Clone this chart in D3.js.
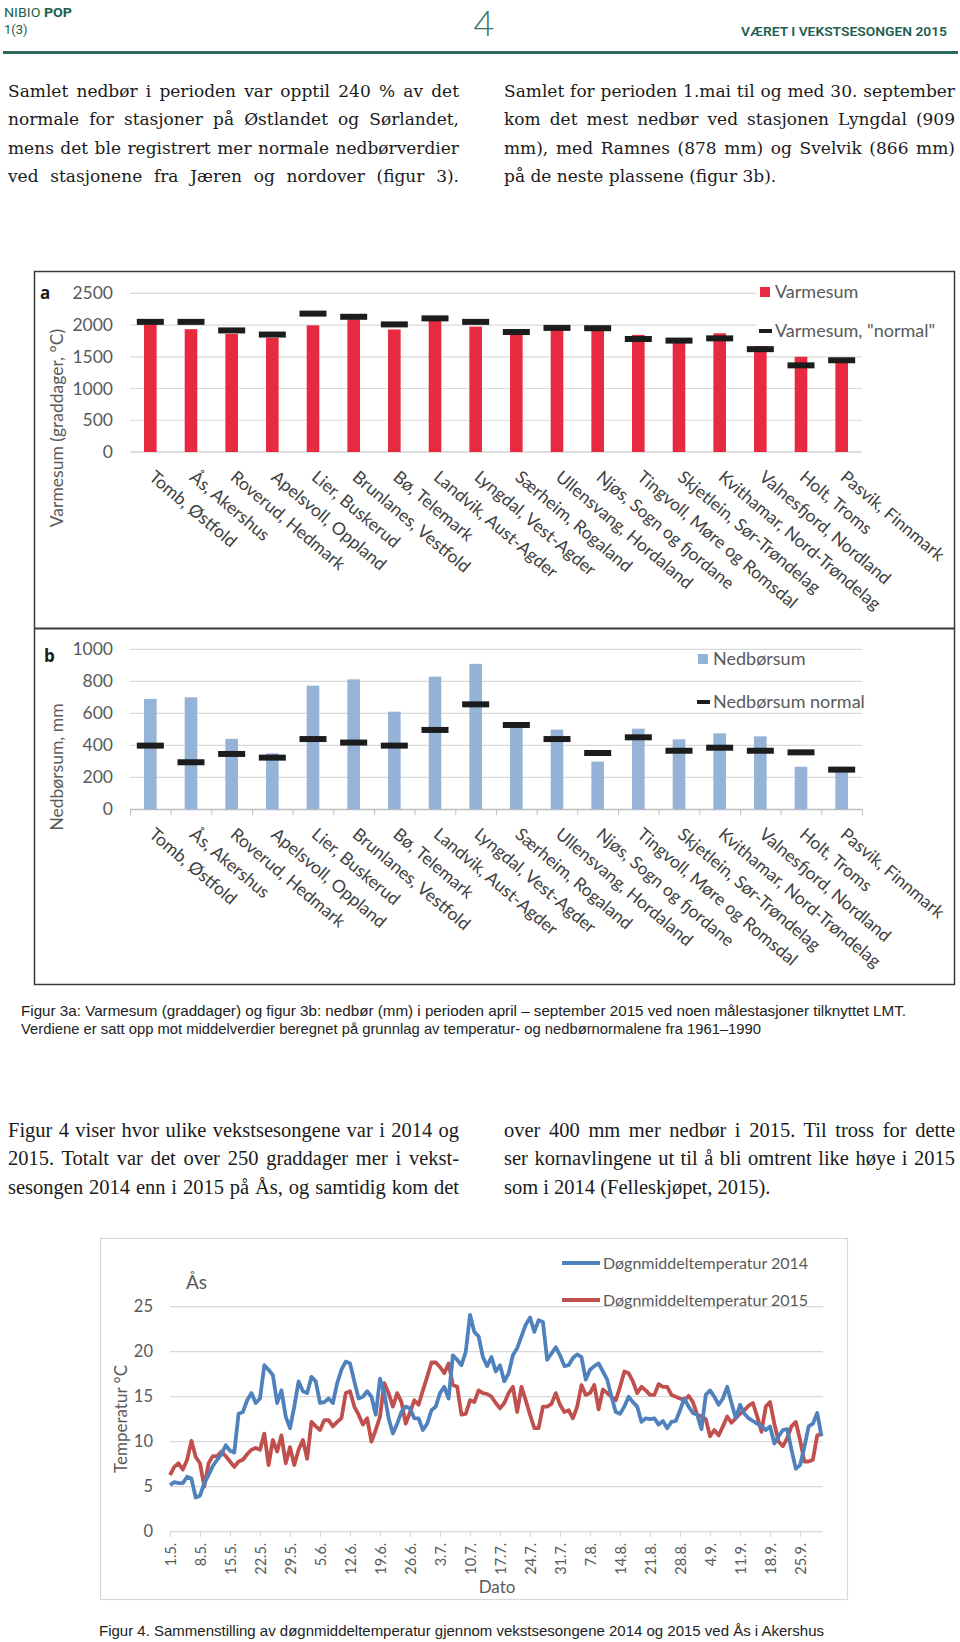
<!DOCTYPE html>
<html><head><meta charset="utf-8">
<script src="https://cdn.jsdelivr.net/npm/d3@7"></script>
<style>
body{margin:0;background:#fff;}
#page{position:relative;width:960px;height:1642px;overflow:hidden;background:#fff;}
svg{position:absolute;left:0;top:0;}
.pl{position:absolute;white-space:nowrap;color:#1a1a1a;line-height:28.4px;height:28.4px;}
</style></head>
<body><div id="page"></div>
<script>
// ---------------- DATA ----------------
const stations = ["Tomb, Østfold","Ås, Akershus","Roverud, Hedmark","Apelsvoll, Oppland","Lier, Buskerud","Brunlanes, Vestfold","Bø, Telemark","Landvik, Aust-Agder","Lyngdal, Vest-Agder","Særheim, Rogaland","Ullensvang, Hordaland","Njøs, Sogn og fjordane","Tingvoll, Møre og Romsdal","Skjetlein, Sør-Trøndelag","Kvithamar, Nord-Trøndelag","Valnesfjord, Nordland","Holt, Troms","Pasvik, Finnmark"];
const varmesum       = [2010,1935,1860,1800,1995,2090,1930,2065,1975,1850,1920,1920,1845,1720,1870,1670,1500,1420];
const varmesumNormal = [2050,2050,1915,1850,2180,2130,2010,2105,2050,1890,1955,1950,1780,1755,1790,1620,1365,1445];
const varmeTicks = [0,500,1000,1500,2000,2500];
const nedbor       = [690,700,440,350,773,812,610,829,909,515,498,298,504,437,475,456,266,235];
const nedborNormal = [398,294,346,323,439,417,398,496,656,527,439,352,450,366,385,366,356,248];
const nedborTicks = [0,200,400,600,800,1000];

const temp2014 = [5.2,5.5,5.4,5.4,6.1,5.9,3.8,4.0,5.4,6.3,7.3,8.0,8.6,9.6,9.0,8.8,13.1,13.3,14.6,15.4,
14.3,14.8,18.5,18.0,17.4,14.3,15.7,12.8,11.5,13.9,16.7,15.6,15.4,17.2,16.7,14.3,14.4,14.8,14.3,16.5,
18.0,18.9,18.7,16.7,14.8,15.0,15.6,15.0,13.0,17.0,15.4,12.6,10.9,12.0,13.3,13.9,13.7,12.6,12.6,11.3,
12.0,13.5,13.9,15.4,16.1,14.8,19.6,19.1,18.5,20.0,24.1,22.2,21.7,19.4,18.4,19.4,17.8,18.5,16.7,17.6,
19.6,20.4,21.7,23.0,23.8,22.2,23.5,23.3,19.1,19.8,20.5,19.6,18.4,18.5,19.3,19.7,19.4,16.9,18.0,18.4,
18.7,17.8,16.9,15.0,13.3,13.1,13.9,15.0,14.4,13.9,12.2,12.6,12.5,12.6,11.9,12.3,11.5,12.2,12.3,13.5,
14.8,13.9,13.2,13.0,11.4,15.2,15.7,15.0,14.1,14.8,16.1,14.3,12.6,14.1,13.1,12.6,12.3,12.0,11.7,11.3,
11.7,9.8,10.6,11.3,11.4,9.1,7.0,7.4,9.4,11.7,12.0,13.2,10.6,7.2];
const temp2015 = [6.3,7.2,7.6,6.9,8.0,10.1,8.3,7.6,5.0,7.6,8.4,8.4,8.9,8.4,7.8,7.2,7.8,8.0,8.6,9.1,
9.3,9.1,10.9,7.4,10.2,8.9,10.7,7.6,9.4,7.4,9.1,10.2,8.1,12.2,11.7,11.3,12.4,12.4,11.7,12.2,
12.6,15.4,15.6,13.9,13.0,11.9,12.6,10.0,11.3,12.8,16.5,15.4,13.9,15.4,14.4,12.0,13.3,14.6,14.1,15.7,
17.2,18.8,18.8,18.3,17.6,18.7,16.3,16.1,13.0,13.1,14.6,14.4,15.7,15.4,15.3,15.0,14.3,13.7,14.3,15.4,
16.1,13.3,16.1,14.6,13.0,11.5,11.5,13.9,13.9,14.2,15.4,14.1,13.3,13.5,12.6,13.9,16.3,15.2,15.4,16.3,
13.6,15.8,15.4,15.0,14.6,16.1,17.8,17.6,16.7,15.4,16.1,15.7,15.2,15.2,16.4,16.1,16.1,15.2,15.0,14.8,
14.6,15.1,14.4,13.0,12.8,12.5,10.6,11.3,10.7,11.7,12.8,12.1,12.6,13.1,13.5,14.0,14.3,12.8,11.1,13.9,
14.4,12.0,10.0,9.5,10.4,11.7,12.2,10.2,7.8,7.8,8.0,10.7,10.9];
const dateTicks = ["1.5.","8.5.","15.5.","22.5.","29.5.","5.6.","12.6.","19.6.","26.6.","3.7.","10.7.","17.7.","24.7.","31.7.","7.8.","14.8.","21.8.","28.8.","4.9.","11.9.","18.9.","25.9."];
const tempTicks = [0,5,10,15,20,25];
const fmtDay = d3.timeFormat("%-d.%-m.");
const days = d3.timeDay.range(new Date(2015,4,1), new Date(2015,9,1)).map(fmtDay);

// ---------------- PAGE ----------------
const page = d3.select("#page");
const svg = page.append("svg").attr("width",960).attr("height",1642);
const TEAL = "#1d5e50";
const SANS = "Lato, 'Open Sans', sans-serif";
const GRAY = "#595959";
const HEAD = "'Liberation Sans Narrow','Roboto',sans-serif";

// header
svg.append("text").attr("x",4).attr("y",17).attr("font-family",HEAD)
  .attr("font-size",13).attr("fill",TEAL).attr("textLength",68).attr("lengthAdjust","spacingAndGlyphs")
  .call(t=>{t.append("tspan").text("NIBIO ");t.append("tspan").attr("font-weight","bold").text("POP");});
svg.append("text").attr("x",4).attr("y",34).attr("font-family",HEAD)
  .attr("font-size",13).attr("fill",TEAL).text("1(3)");
svg.append("text").attr("x",484).attr("y",36).attr("text-anchor","middle").attr("font-family","Lato, sans-serif")
  .attr("font-weight",300).attr("font-size",36).attr("fill","#3d7566").text("4");
svg.append("text").attr("x",947).attr("y",36).attr("text-anchor","end").attr("font-family",HEAD)
  .attr("font-weight",600).attr("font-size",13.5).attr("fill",TEAL).attr("textLength",206).attr("lengthAdjust","spacingAndGlyphs").text("VÆRET I VEKSTSESONGEN 2015");
svg.append("rect").attr("x",3).attr("y",51).attr("width",955).attr("height",3).attr("fill","#2b6a5c");

// paragraphs: each line justified by computing word spacing
function para(x,y,w,lines,family,size){
  lines.forEach((l,i)=>{
    const d = page.append("div").attr("class","pl")
      .style("left",x+"px").style("top",(y+i*28.4)+"px")
      .style("font-family",family).style("font-size",size+"px").text(l.t);
    if(!l.last){
      const nat = d.node().getBoundingClientRect().width;
      const n = (l.t.match(/ /g)||[]).length;
      d.style("word-spacing",((w-nat)/n)+"px");
    }
  });
}
const SERIF1 = "'DejaVu Serif',serif", SERIF2 = "'Liberation Serif',serif";
para(8,77,451,[{t:"Samlet nedbør i perioden var opptil 240 % av det"},{t:"normale for stasjoner på Østlandet og Sørlandet,"},{t:"mens det ble registrert mer normale nedbørverdier"},{t:"ved stasjonene fra Jæren og nordover (figur 3)."}],SERIF1,17);
para(504,77,451,[{t:"Samlet for perioden 1.mai til og med 30. september"},{t:"kom det mest nedbør ved stasjonen Lyngdal (909"},{t:"mm), med Ramnes (878 mm) og Svelvik (866 mm)"},{t:"på de neste plassene (figur 3b).",last:true}],SERIF1,17);
para(8,1116,451,[{t:"Figur 4 viser hvor ulike vekstsesongene var i 2014 og"},{t:"2015. Totalt var det over 250 graddager mer i vekst-"},{t:"sesongen 2014 enn i 2015 på Ås, og samtidig kom det"}],SERIF2,20.5);
para(504,1116,451,[{t:"over 400 mm mer nedbør i 2015. Til tross for dette"},{t:"ser kornavlingene ut til å bli omtrent like høye i 2015"},{t:"som i 2014 (Felleskjøpet, 2015).",last:true}],SERIF2,20.5);

// captions
const CAP = "'Liberation Sans Narrow','Liberation Sans',sans-serif";
svg.append("text").attr("x",21).attr("y",1016).attr("font-family",CAP).attr("font-size",15).attr("fill","#222")
  .attr("textLength",885).attr("lengthAdjust","spacingAndGlyphs")
  .text("Figur 3a: Varmesum (graddager) og figur 3b: nedbør (mm) i perioden april – september 2015 ved noen målestasjoner tilknyttet LMT.");
svg.append("text").attr("x",21).attr("y",1034).attr("font-family",CAP).attr("font-size",15).attr("fill","#222")
  .attr("textLength",740).attr("lengthAdjust","spacingAndGlyphs")
  .text("Verdiene er satt opp mot middelverdier beregnet på grunnlag av temperatur- og nedbørnormalene fra 1961–1990");
svg.append("text").attr("x",99).attr("y",1636).attr("font-family",CAP).attr("font-size",15).attr("fill","#222")
  .attr("textLength",725).attr("lengthAdjust","spacingAndGlyphs")
  .text("Figur 4. Sammenstilling av døgnmiddeltemperatur gjennom vekstsesongene 2014 og 2015 ved Ås i Akershus");

// ---------------- FIGURE 3 ----------------
svg.append("rect").attr("x",34.5).attr("y",271.5).attr("width",920).attr("height",713)
  .attr("fill","none").attr("stroke","#3a3a3a").attr("stroke-width",1.5);
svg.append("line").attr("x1",34.5).attr("x2",954.5).attr("y1",628.5).attr("y2",628.5).attr("stroke","#3a3a3a").attr("stroke-width",2);

const x3 = d3.scaleBand().domain(stations).range([130,862]).paddingInner(0.69).paddingOuter(0.345);
function barPanel(opts){
  const g = svg.append("g");
  const y = d3.scaleLinear().domain([0,opts.max]).range([opts.y0,opts.y1]);
  g.append("g").selectAll("line").data(opts.ticks).join("line")
    .attr("x1",130).attr("x2",862).attr("y1",d=>y(d)).attr("y2",d=>y(d))
    .attr("stroke",d=>d===0?"#bfbfbf":"#d9d9d9").attr("stroke-width",1.2);
  const ax = g.append("g").attr("transform","translate(130,0)")
    .call(d3.axisLeft(y).tickValues(opts.ticks).tickFormat(d3.format("d")).tickSize(0).tickPadding(17));
  ax.select(".domain").remove();
  ax.selectAll("text").attr("font-family",SANS).attr("font-size",17.5).attr("fill",GRAY);
  if(opts.xticks){
    const bx = g.append("g").attr("transform",`translate(0,${opts.y0})`)
      .call(d3.axisBottom(d3.scaleLinear().domain([0,stations.length]).range([130,862])).ticks(18).tickSize(6).tickFormat(""));
    bx.select(".domain").attr("stroke","#bfbfbf");
    bx.selectAll("line").attr("stroke","#bfbfbf");
  }
  g.append("g").selectAll("rect").data(opts.values).join("rect")
    .attr("x",(d,i)=>x3(stations[i])).attr("width",x3.bandwidth())
    .attr("y",d=>y(d)).attr("height",d=>opts.y0-y(d)).attr("fill",opts.color);
  g.append("g").selectAll("rect").data(opts.normals).join("rect")
    .attr("x",(d,i)=>x3(stations[i])+x3.bandwidth()/2-13.5).attr("width",27)
    .attr("y",d=>y(d)-3).attr("height",6).attr("fill","#1c1c1c");
  g.append("g").selectAll("text").data(stations).join("text")
    .attr("transform",d=>`translate(${x3(d)+x3.bandwidth()/2+6},${opts.y0+17}) rotate(40)`)
    .attr("dy","0.75em").attr("font-family",SANS).attr("font-size",17.5).attr("fill","#404040").text(d=>d);
  g.append("text").attr("x",opts.letterX).attr("y",opts.letterY).attr("font-family","'Open Sans',sans-serif")
    .attr("font-weight","bold").attr("font-size",17).attr("fill","#1a1a1a").text(opts.letter);
  g.append("text").attr("transform",`translate(63,${opts.titleY}) rotate(-90)`).attr("text-anchor","middle")
    .attr("font-family",SANS).attr("font-size",17.5).attr("fill",GRAY).text(opts.title);
  const lg = g.append("g").attr("transform",`translate(${opts.legX},${opts.legY})`);
  if(opts.legBg) lg.append("rect").attr("x",-4).attr("y",-10).attr("width",108).attr("height",52).attr("fill","#fff");
  lg.append("rect").attr("x",0).attr("y",-5).attr("width",10).attr("height",10).attr("fill",opts.color);
  lg.append("text").attr("x",15).attr("y",0).attr("dy","0.35em").attr("font-family",SANS).attr("font-size",18).attr("fill",GRAY).text(opts.leg1);
  lg.append("rect").attr("x",-1).attr("y",opts.legGap-2).attr("width",13).attr("height",4).attr("fill","#1c1c1c");
  lg.append("text").attr("x",15).attr("y",opts.legGap).attr("dy","0.35em").attr("font-family",SANS).attr("font-size",18).attr("fill",GRAY).text(opts.leg2);
}
barPanel({max:2500,y0:452,y1:293.3,ticks:varmeTicks,values:varmesum,normals:varmesumNormal,color:"#e82a41",
  letter:"a",letterX:40,letterY:299,title:"Varmesum (graddager, °C)",titleY:428,
  legX:760,legY:292,legGap:39,leg1:"Varmesum",leg2:"Varmesum, \"normal\"",legBg:true,xticks:false});
barPanel({max:1000,y0:809.3,y1:649.3,ticks:nedborTicks,values:nedbor,normals:nedborNormal,color:"#95b3d7",
  letter:"b",letterX:44,letterY:662,title:"Nedbørsum, mm",titleY:767,
  legX:698,legY:659,legGap:43,leg1:"Nedbørsum",leg2:"Nedbørsum normal",legBg:false,xticks:true});

// ---------------- FIGURE 4 ----------------
svg.append("rect").attr("x",100.5).attr("y",1238.5).attr("width",747).attr("height",361)
  .attr("fill","#fff").attr("stroke","#d9d9d9").attr("stroke-width",1.2);
const x4 = d3.scalePoint().domain(days).range([170,821.5]);
const y4 = d3.scaleLinear().domain([0,25]).range([1531.7,1306.7]);
svg.append("g").selectAll("line").data(tempTicks.filter(d=>d>0)).join("line")
  .attr("x1",170).attr("x2",823).attr("y1",d=>y4(d)).attr("y2",d=>y4(d)).attr("stroke","#d9d9d9").attr("stroke-width",1.2);
const ya4 = svg.append("g").attr("transform","translate(170,0)").call(d3.axisLeft(y4).tickValues(tempTicks).tickSize(0).tickPadding(17));
ya4.select(".domain").remove();
ya4.selectAll("text").attr("font-family",SANS).attr("font-size",16.5).attr("fill",GRAY);
const xa4 = svg.append("g").attr("transform",`translate(0,${y4(0)})`)
  .call(d3.axisBottom(x4).tickValues(dateTicks).tickSize(5).tickPadding(8));
xa4.select(".domain").attr("d","M170,0H823").attr("stroke","#d9d9d9").attr("stroke-width",1.2);
xa4.selectAll("line").attr("stroke","#d9d9d9");
xa4.selectAll("text").attr("transform","rotate(-90)").attr("text-anchor","end").attr("x",-11).attr("y",0).attr("dy","0.35em")
  .attr("font-family",SANS).attr("font-size",14.5).attr("fill",GRAY);
const line4 = d3.line().x((d,i)=>x4(days[i])).y(d=>y4(d));
svg.append("path").datum(temp2015).attr("d",line4).attr("fill","none").attr("stroke","#c0504d").attr("stroke-width",3.8).attr("stroke-linejoin","round");
svg.append("path").datum(temp2014).attr("d",line4).attr("fill","none").attr("stroke","#4f81bd").attr("stroke-width",3.8).attr("stroke-linejoin","round");
svg.append("text").attr("x",186).attr("y",1289).attr("font-family",SANS).attr("font-size",19).attr("fill",GRAY).text("Ås");
svg.append("text").attr("transform","translate(127,1419) rotate(-90)").attr("text-anchor","middle")
  .attr("font-family",SANS).attr("font-size",17).attr("fill",GRAY).text("Temperatur °C");
svg.append("text").attr("x",497).attr("y",1593).attr("text-anchor","middle").attr("font-family",SANS).attr("font-size",17).attr("fill",GRAY).text("Dato");
const lg4 = svg.append("g");
[["Døgnmiddeltemperatur 2014","#4f81bd",1263],["Døgnmiddeltemperatur 2015","#c0504d",1300]].forEach(([t,c,yy])=>{
  lg4.append("line").attr("x1",562).attr("x2",600).attr("y1",yy).attr("y2",yy).attr("stroke",c).attr("stroke-width",3.8);
  lg4.append("text").attr("x",603).attr("y",yy).attr("dy","0.35em").attr("font-family",SANS).attr("font-size",16).attr("fill",GRAY).text(t);
});
</script></body></html>
